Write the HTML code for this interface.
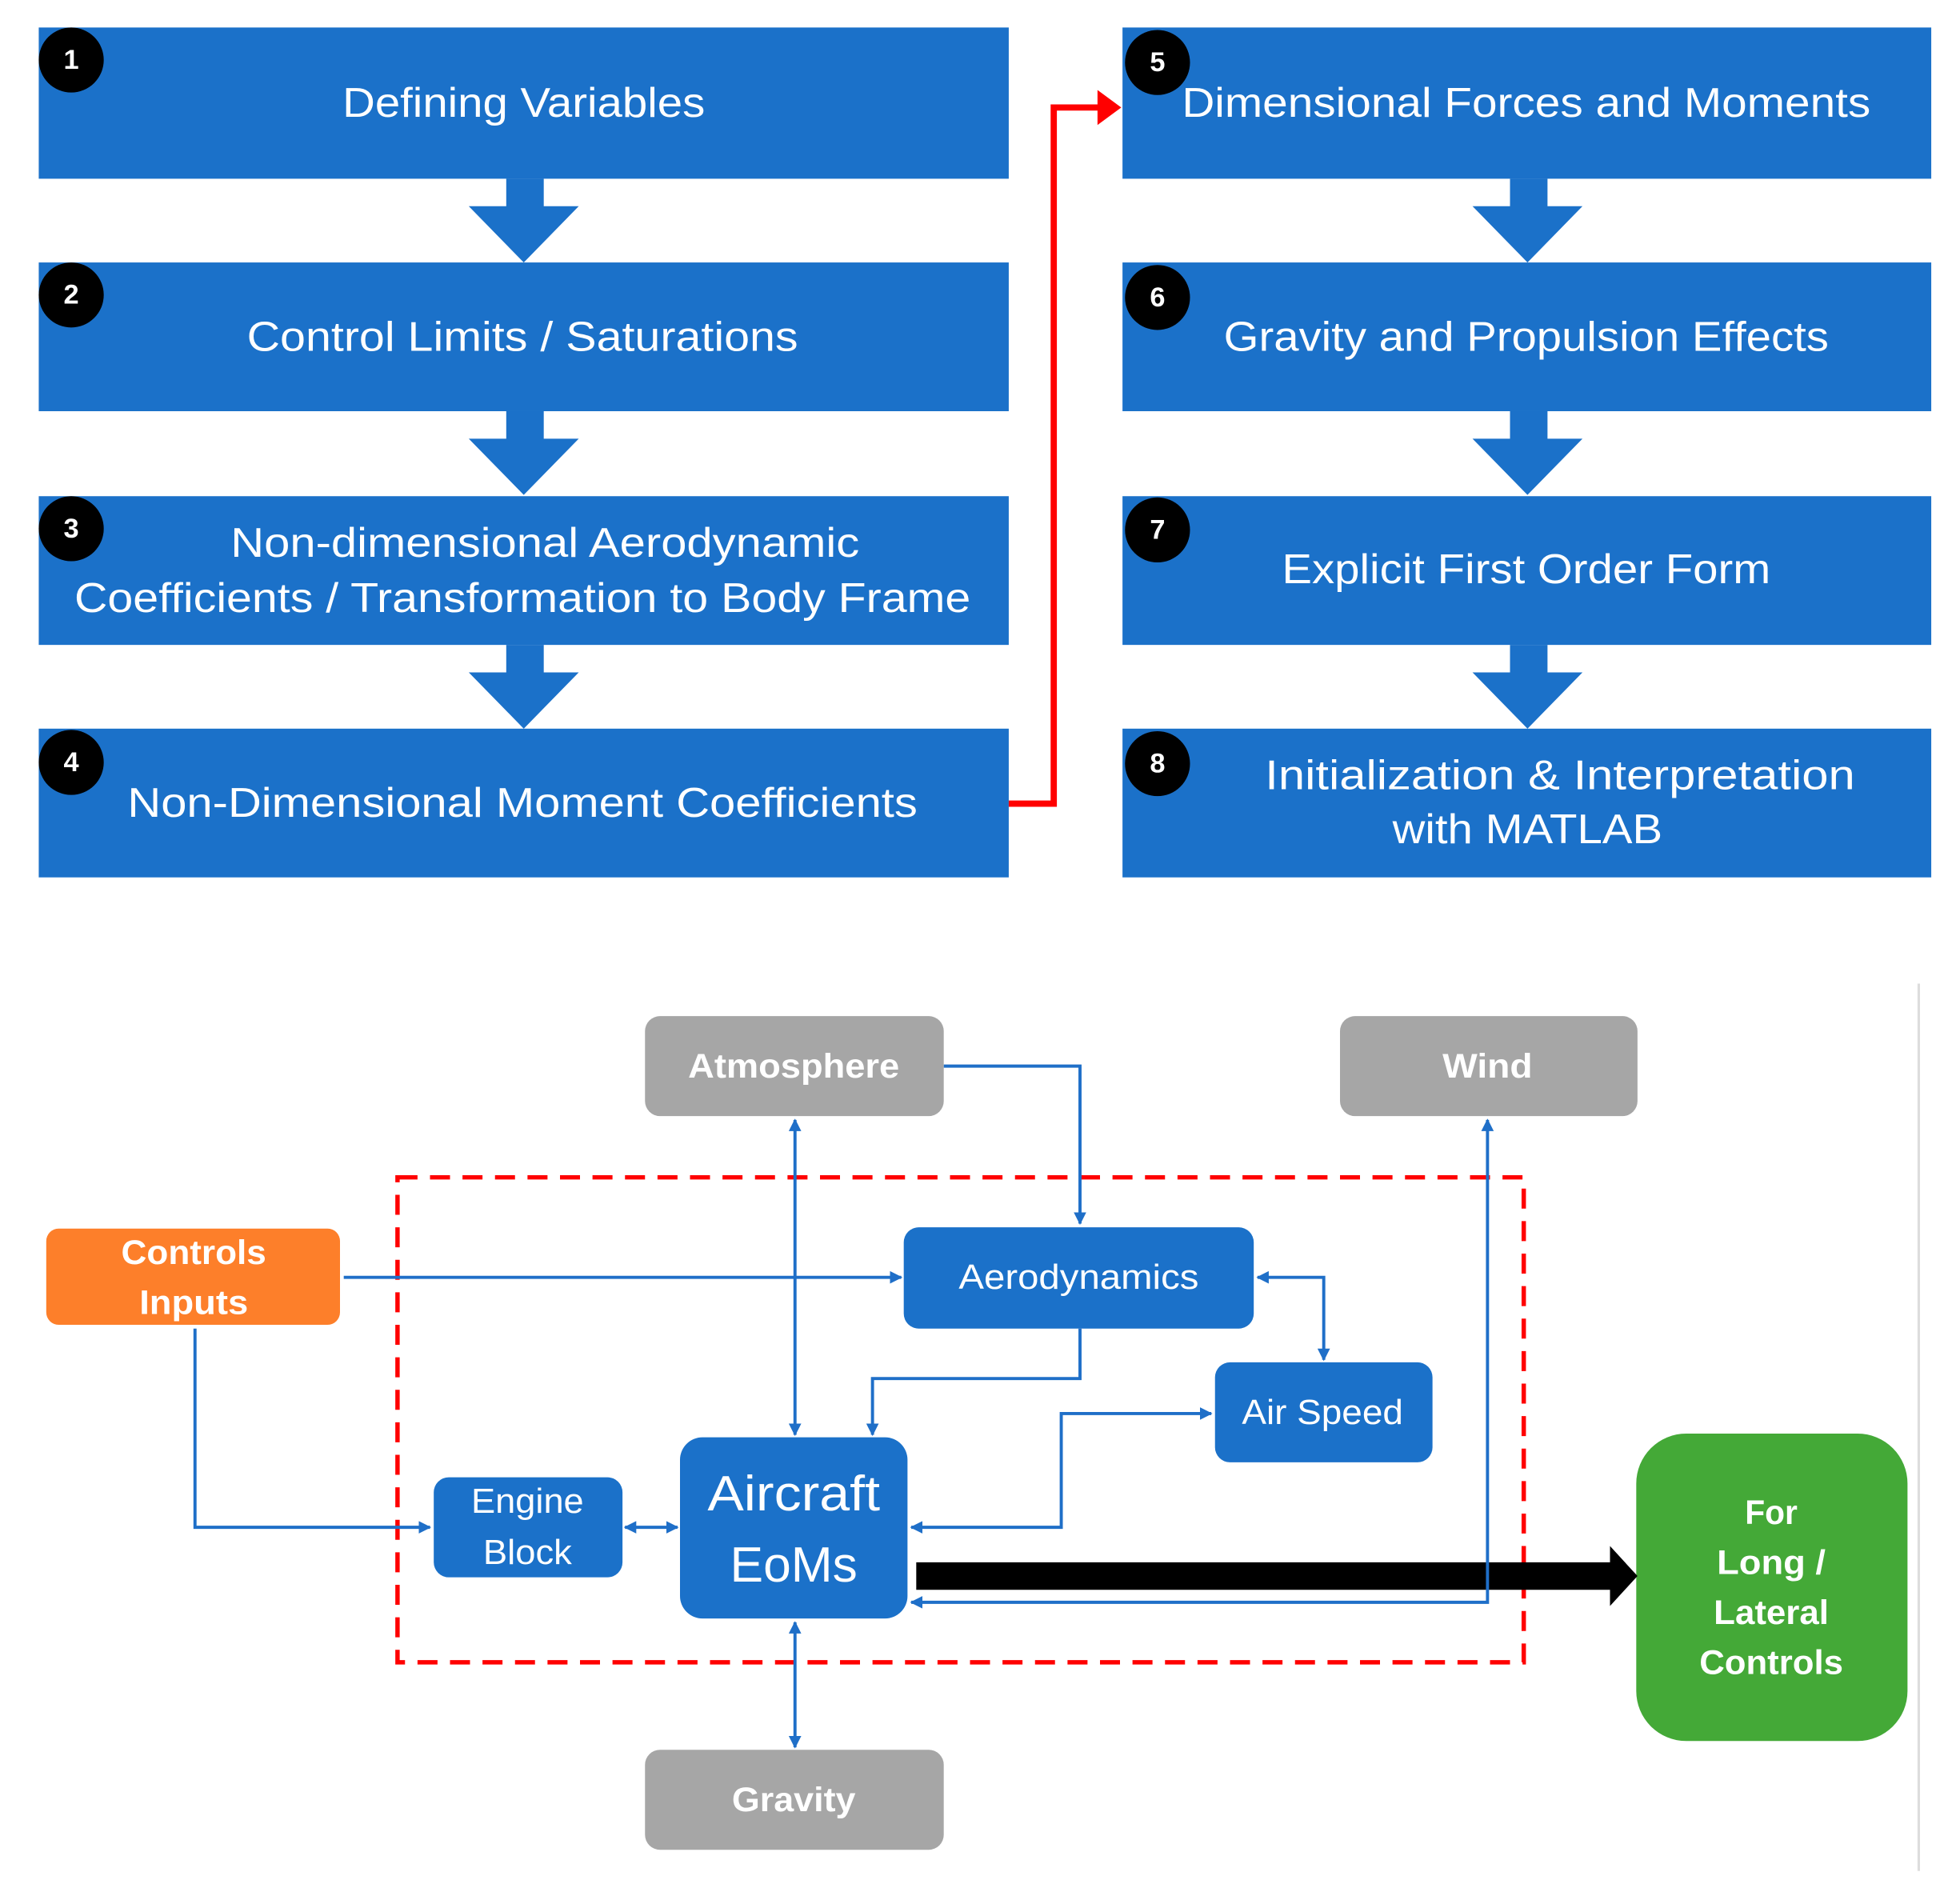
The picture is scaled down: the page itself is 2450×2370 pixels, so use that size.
<!DOCTYPE html>
<html><head><meta charset="utf-8"><style>
html,body{margin:0;padding:0;background:#fff;}
svg{display:block;}
text{font-family:"Liberation Sans",sans-serif;fill:#fff;dominant-baseline:central;text-anchor:middle;}
</style></head><body>
<svg width="2450" height="2370" viewBox="0 0 1568 1517" preserveAspectRatio="none" xmlns="http://www.w3.org/2000/svg">
<defs>
<marker id="ab" viewBox="0 0 10 10" refX="9" refY="5" markerWidth="4" markerHeight="4" orient="auto-start-reverse"><path d="M0,0L10,5L0,10z" fill="#1f6fc8"/></marker>
</defs>
<rect width="1568" height="1517" fill="#fff"/>
<g fill="#1b71c9">
<rect x="31" y="22" width="776" height="121"/>
<rect x="31" y="210" width="776" height="119"/>
<rect x="31" y="397" width="776" height="119"/>
<rect x="31" y="583" width="776" height="119"/>
<rect x="898" y="22" width="647" height="121"/>
<rect x="898" y="210" width="647" height="119"/>
<rect x="898" y="397" width="647" height="119"/>
<rect x="898" y="583" width="647" height="119"/>
<path d="M405,143h30v22h28l-44,45l-44,-45h30z"/>
<path d="M405,329h30v22h28l-44,45l-44,-45h30z"/>
<path d="M405,516h30v22h28l-44,45l-44,-45h30z"/>
<path d="M1208,143h30v22h28l-44,45l-44,-45h30z"/>
<path d="M1208,329h30v22h28l-44,45l-44,-45h30z"/>
<path d="M1208,516h30v22h28l-44,45l-44,-45h30z"/>
</g>
<g fill="#000">
<circle cx="57" cy="48" r="26"/><circle cx="57" cy="236" r="26"/><circle cx="57" cy="423" r="26"/><circle cx="57" cy="610" r="26"/>
<circle cx="926" cy="50" r="26"/><circle cx="926" cy="238" r="26"/><circle cx="926" cy="424" r="26"/><circle cx="926" cy="611" r="26"/>
</g>
<g font-size="22" font-weight="bold">
<text x="57" y="48">1</text><text x="57" y="236">2</text><text x="57" y="423">3</text><text x="57" y="610">4</text>
<text x="926" y="50">5</text><text x="926" y="238">6</text><text x="926" y="424">7</text><text x="926" y="611">8</text>
</g>
<g font-size="33">
<text x="419" y="82" textLength="290" lengthAdjust="spacingAndGlyphs">Defining Variables</text>
<text x="418" y="269" textLength="441" lengthAdjust="spacingAndGlyphs">Control Limits / Saturations</text>
<text x="436" y="434" textLength="503" lengthAdjust="spacingAndGlyphs">Non-dimensional Aerodynamic</text>
<text x="418" y="478" textLength="717" lengthAdjust="spacingAndGlyphs">Coefficients / Transformation to Body Frame</text>
<text x="418" y="642" textLength="632" lengthAdjust="spacingAndGlyphs">Non-Dimensional Moment Coefficients</text>
<text x="1221" y="82" textLength="551" lengthAdjust="spacingAndGlyphs">Dimensional Forces and Moments</text>
<text x="1221" y="269" textLength="484" lengthAdjust="spacingAndGlyphs">Gravity and Propulsion Effects</text>
<text x="1221" y="455" textLength="391" lengthAdjust="spacingAndGlyphs">Explicit First Order Form</text>
<text x="1248" y="620" textLength="472" lengthAdjust="spacingAndGlyphs">Initialization &amp; Interpretation</text>
<text x="1222" y="663" textLength="216" lengthAdjust="spacingAndGlyphs">with MATLAB</text>
</g>
<path d="M807,643H843V86H880" fill="none" stroke="#f00" stroke-width="5"/>
<path d="M878,72L897,86L878,100z" fill="#f00"/>

<line x1="1535" y1="787" x2="1535" y2="1497" stroke="#ddd" stroke-width="2"/>
<rect x="318" y="942" width="901" height="388" fill="none" stroke="#f00" stroke-width="3.5" stroke-dasharray="16,10"/>

<g fill="none" stroke="#1f6fc8" stroke-width="2.5">
<path d="M755,853H864V979" marker-end="url(#ab)"/>
<path d="M636,896V1148" marker-start="url(#ab)" marker-end="url(#ab)"/>
<path d="M275,1022H721" marker-end="url(#ab)"/>
<path d="M156,1063V1222H344" marker-end="url(#ab)"/>
<path d="M864,1063V1103H698V1148" marker-end="url(#ab)"/>
<path d="M1006,1022H1059V1088" marker-start="url(#ab)" marker-end="url(#ab)"/>
<path d="M969,1131H849V1222H729" marker-start="url(#ab)" marker-end="url(#ab)"/>
<path d="M500,1222H542" marker-start="url(#ab)" marker-end="url(#ab)"/>
<path d="M636,1298V1398" marker-start="url(#ab)" marker-end="url(#ab)"/>
</g>
<g fill="#a6a6a6">
<rect x="516" y="813" width="239" height="80" rx="12"/>
<rect x="1072" y="813" width="238" height="80" rx="12"/>
<rect x="516" y="1400" width="239" height="80" rx="12"/>
</g>
<rect x="37" y="983" width="235" height="77" rx="10" fill="#fd7f2a"/>
<g fill="#1b71c9">
<rect x="723" y="982" width="280" height="81" rx="12"/>
<rect x="972" y="1090" width="174" height="80" rx="12"/>
<rect x="347" y="1182" width="151" height="80" rx="12"/>
<rect x="544" y="1150" width="182" height="145" rx="18"/>
</g>
<rect x="1309" y="1147" width="217" height="246" rx="40" fill="#44a937"/>
<path d="M733,1250H1288V1237L1310,1261L1288,1285V1272H733z" fill="#000"/>
<g fill="none" stroke="#1f6fc8" stroke-width="2.5">
<path d="M1190,896V1282H729" marker-start="url(#ab)" marker-end="url(#ab)"/>
</g>
<g font-size="27" font-weight="bold">
<text x="635" y="853" textLength="169" lengthAdjust="spacingAndGlyphs">Atmosphere</text>
<text x="1190" y="853" textLength="72" lengthAdjust="spacingAndGlyphs">Wind</text>
<text x="635" y="1440" textLength="99" lengthAdjust="spacingAndGlyphs">Gravity</text>
<text x="155" y="1002" textLength="116" lengthAdjust="spacingAndGlyphs">Controls</text>
<text x="155" y="1042" textLength="87" lengthAdjust="spacingAndGlyphs">Inputs</text>
<text x="1417" y="1210" textLength="42" lengthAdjust="spacingAndGlyphs">For</text>
<text x="1417" y="1250" textLength="87" lengthAdjust="spacingAndGlyphs">Long /</text>
<text x="1417" y="1290" textLength="92" lengthAdjust="spacingAndGlyphs">Lateral</text>
<text x="1417" y="1330" textLength="115" lengthAdjust="spacingAndGlyphs">Controls</text>
</g>
<g font-size="28">
<text x="863" y="1022" textLength="192" lengthAdjust="spacingAndGlyphs">Aerodynamics</text>
<text x="1058" y="1130" textLength="129" lengthAdjust="spacingAndGlyphs">Air Speed</text>
<text x="422" y="1201" textLength="90" lengthAdjust="spacingAndGlyphs">Engine</text>
<text x="422" y="1242" textLength="71" lengthAdjust="spacingAndGlyphs">Block</text>
</g>
<g font-size="40">
<text x="635" y="1195" textLength="138" lengthAdjust="spacingAndGlyphs">Aircraft</text>
<text x="635" y="1252" textLength="102" lengthAdjust="spacingAndGlyphs">EoMs</text>
</g>
</svg>
</body></html>
